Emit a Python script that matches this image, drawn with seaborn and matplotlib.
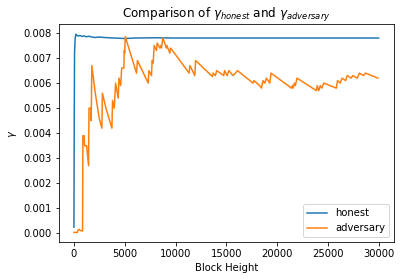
import matplotlib
matplotlib.use("Agg")
import matplotlib.pyplot as plt
import seaborn as sns
import pandas as pd

honest_x = [0, 30, 60, 120, 200, 300, 450, 600, 800, 1000, 1200, 1500, 2000, 2500,
            3000, 4000, 5000, 6000, 8000, 10000, 15000, 20000, 25000, 30000]
honest_y = [0.00025, 0.0045, 0.0072, 0.0078, 0.00795, 0.0079, 0.00788, 0.0079, 0.00786,
            0.00789, 0.00785, 0.00787, 0.00782, 0.00784, 0.00782, 0.0078, 0.00778,
            0.0078, 0.00781, 0.0078, 0.0078, 0.0078, 0.0078, 0.0078]

adv_x = [0, 350, 380, 520, 600, 850, 880, 1000, 1050, 1250, 1440, 1480, 1660, 1700,
         1760, 2100, 2490, 2750, 2800, 3150, 3740, 3800, 3970, 4100, 4360, 4430,
         4600, 4700, 4920, 4950, 5000, 5050, 6160, 6250, 7310, 7380, 7640, 7700,
         7800, 7900, 8130, 8200, 8460, 8550, 8620, 8750, 9110, 9150, 9440, 9520,
         11340, 11420, 11900, 11980, 13640, 13700, 13930, 14050, 14750, 14830,
         15090, 15250, 15670, 15900, 16100, 17640, 17720, 18290, 18460, 18620,
         18790, 18950, 19280, 19400, 21420, 21500, 21580, 21700, 21800, 21960,
         23870, 23950, 24100, 24250, 24400, 24600, 25830, 25950, 26200, 26400,
         26750, 26900, 27300, 27450, 27900, 28100, 28500, 28700, 29930]
adv_y = [0.00004, 0.00004, 0.00012, 0.00016, 0.00012, 0.00010, 0.0039, 0.0039, 0.0035,
         0.0035, 0.0027, 0.0050, 0.0050, 0.0045, 0.0067, 0.0056, 0.0046, 0.0042,
         0.0056, 0.0050, 0.0042, 0.0053, 0.0050, 0.0060, 0.0054, 0.0062, 0.0059,
         0.0066, 0.0066, 0.0073, 0.0072, 0.00786, 0.0064, 0.0069, 0.0060, 0.0065,
         0.0063, 0.0069, 0.0068, 0.0075, 0.0073, 0.0076, 0.0074, 0.0075, 0.0074,
         0.0078, 0.0074, 0.0075, 0.0072, 0.0074, 0.0064, 0.0067, 0.0063, 0.0069,
         0.00626, 0.0064, 0.0063, 0.0065, 0.0063, 0.0065, 0.0063, 0.0065, 0.0063,
         0.0064, 0.0065, 0.0060, 0.0061, 0.0059, 0.0058, 0.0061, 0.0060, 0.0062,
         0.0060, 0.0064, 0.0058, 0.0059, 0.0058, 0.0060, 0.0059, 0.0062, 0.0057,
         0.0059, 0.0057, 0.0059, 0.0058, 0.0060, 0.0058, 0.0061, 0.0060, 0.0062,
         0.0061, 0.0063, 0.0062, 0.0063, 0.0062, 0.0064, 0.0063, 0.0064, 0.0062]

honest = pd.DataFrame({"x": honest_x, "y": honest_y})
adv = pd.DataFrame({"x": adv_x, "y": adv_y})

plt.rcParams["font.family"] = ["DejaVu Sans"]
fig = plt.figure(figsize=(404 / 72, 280 / 72), dpi=72)
ax = fig.add_axes([0.1453, 0.1346, 0.975 - 0.1453, 0.913 - 0.1346])
sns.lineplot(data=honest, x="x", y="y", ax=ax, color="tab:blue", label="honest",
             estimator=None, sort=False, linewidth=1.5)
sns.lineplot(data=adv, x="x", y="y", ax=ax, color="tab:orange", label="adversary",
             estimator=None, sort=False, linewidth=1.5)
ax.set_title(r"Comparison of $\gamma_{honest}$ and $\gamma_{adversary}$")
ax.set_xlabel("Block Height")
ax.set_ylabel(r"$\gamma$")
ax.legend(loc="lower right")
fig.savefig("out.png", dpi=72)
